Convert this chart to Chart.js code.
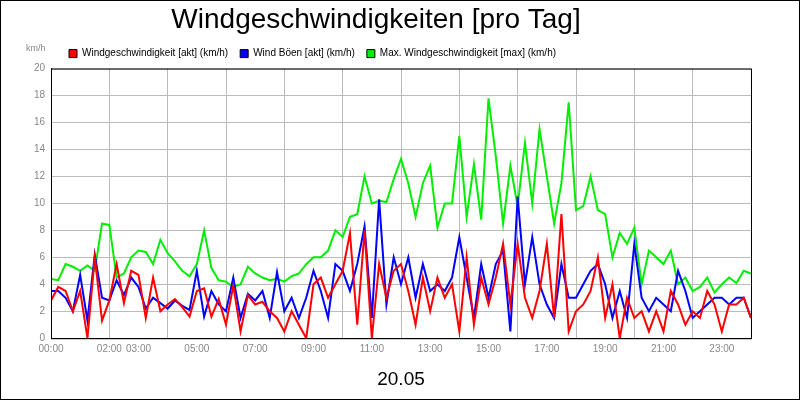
<!DOCTYPE html>
<html>
<head>
<meta charset="utf-8">
<script src="https://cdn.jsdelivr.net/npm/chart.js@4"></script>
<style>
    body { margin: 0; background: #fff; }
    #wrap { position: relative; width: 798px; height: 398px; border: 1px solid #000; overflow: hidden; }
    #unit { position: absolute; left: 25px; top: 42px; font: 9px "Liberation Sans", sans-serif; color: #888; }
</style>
</head>
<body>
<div id="wrap">
    <canvas id="c" width="798" height="398"></canvas>
    <div id="unit">km/h</div>
</div>
<script>
// 15-Minuten-Werte, 00:00 bis 24:00
const hours = [];
for (let i = 0; i <= 96; i++) hours.push(i / 4);

const windAkt = [
    2.8, 3.8, 3.5, 2.0, 3.5, 0, 6.0, 1.3, 2.8, 5.5, 2.6, 5.0,
    4.7, 1.5, 4.5, 2.0, 2.5, 2.9, 2.3, 1.6, 3.5, 3.7, 1.6, 2.9,
    1.0, 3.9, 0.5, 3.2, 2.5, 2.7, 2.0, 1.5, 0.5, 2.0, 1.0, 0,
    4.0, 4.5, 3.0, 4.0, 5.0, 7.8, 1.0, 8.0, 0, 5.5, 3.0, 5.0,
    5.5, 3.5, 1.0, 4.5, 2.0, 4.5, 3.0, 4.0, 0.5, 6.0, 1.0, 4.5,
    2.5, 4.5, 7.0, 2.5, 7.0, 3.0, 1.5, 3.5, 7.0, 1.5, 9.2, 0.5,
    2.0, 2.5, 3.5, 6.0, 1.5, 4.0, 0, 3.0, 1.5, 2.0, 0.5, 2.0,
    0.5, 3.5, 2.5, 1.0, 2.0, 1.5, 3.5, 2.5, 0.5, 2.5, 2.5, 3.0,
    1.5
];
const windBoeen = [
    3.5, 3.5, 3.0, 2.0, 4.7, 1.3, 6.2, 3.0, 2.8, 4.3, 3.2, 4.5,
    3.8, 2.2, 3.0, 2.6, 2.2, 2.8, 2.4, 2.1, 5.0, 1.6, 3.5, 2.5,
    2.0, 4.5, 1.5, 3.3, 2.8, 3.5, 1.5, 4.9, 2.0, 3.0, 1.5, 3.0,
    5.0, 3.5, 1.5, 5.5, 5.0, 3.5, 5.5, 8.3, 1.5, 10.3, 2.5, 6.0,
    4.0, 6.0, 3.0, 5.5, 3.5, 4.0, 3.5, 4.5, 7.5, 4.5, 1.5, 5.5,
    3.0, 5.5, 6.5, 0.5, 10.5, 4.0, 7.5, 4.0, 2.5, 1.5, 5.5, 3.0,
    3.0, 4.0, 5.0, 5.5, 4.0, 1.5, 3.5, 1.5, 7.0, 3.0, 2.0, 3.0,
    2.5, 2.0, 5.0, 3.5, 1.5, 2.0, 2.5, 3.0, 3.0, 2.5, 3.0, 3.0,
    1.5
];
const windMax = [
    4.4, 4.3, 5.5, 5.3, 5.0, 5.4, 5.0, 8.5, 8.4, 4.5, 4.8, 6.0,
    6.5, 6.4, 5.5, 7.3, 6.3, 5.7, 5.0, 4.6, 5.5, 8.0, 5.2, 4.3,
    4.2, 3.8, 4.0, 5.3, 4.8, 4.5, 4.3, 4.4, 4.2, 4.6, 4.8, 5.5,
    6.0, 6.0, 6.5, 8.0, 7.5, 9.0, 9.2, 12.0, 10.0, 10.2, 10.1, 11.8,
    13.3, 11.5, 9.0, 11.5, 12.8, 8.2, 10.0, 10.0, 15.0, 9.0, 12.9, 8.8,
    17.8, 13.5, 8.5, 12.8, 9.8, 14.5, 10.0, 15.5, 12.0, 8.5, 11.5, 17.5,
    9.5, 9.8, 12.0, 9.5, 9.2, 6.0, 7.8, 7.0, 8.2, 4.0, 6.5, 6.0,
    5.5, 6.5, 4.0, 4.5, 3.5, 3.8, 4.5, 3.4, 4.0, 4.5, 4.1, 5.0,
    4.8
];
const xLabelHours = [0, 2, 3, 5, 7, 9, 11, 13, 15, 17, 19, 21, 23];

function pts(values) {
    return values.map((v, i) => ({ x: hours[i], y: v }));
}

function line(label, values, color) {
    return {
        label,
        data: pts(values),
        borderColor: color,
        backgroundColor: color,
        borderWidth: 2,
        pointRadius: 0,
        tension: 0,
    };
}

const frame = {
    id: "frame",
    afterLayout(chart) {
        // Legende neben "km/h" einrücken
        chart.legend.left = 56;
    },
    afterDraw(chart) {
        const a = chart.chartArea;
        const ctx = chart.ctx;
        ctx.save();
        ctx.strokeStyle = "#000";
        ctx.lineWidth = 1;
        ctx.strokeRect(a.left + 0.5, a.top + 0.5, a.width, a.height);
        ctx.restore();
    },
};

new Chart(document.getElementById("c"), {
    type: "line",
    data: {
        datasets: [
            line("Windgeschwindigkeit [akt] (km/h)", windAkt, "#ff0000"),
            line("Wind Böen [akt] (km/h)", windBoeen, "#0000ff"),
            line("Max. Windgeschwindigkeit [max] (km/h)", windMax, "#00ee00"),
        ],
    },
    options: {
        responsive: false,
        animation: false,
        layout: { padding: { left: 0, right: 48, top: 0, bottom: 8 } },
        plugins: {
            title: {
                display: true,
                text: "Windgeschwindigkeiten [pro Tag]",
                color: "#000",
                font: { family: "Liberation Sans", size: 28, weight: "normal" },
                padding: { top: 2, bottom: 0 },
            },
            legend: {
                align: "start",
                labels: {
                    boxWidth: 8,
                    boxHeight: 8,
                    padding: 12,
                    color: "#000",
                    font: { family: "Liberation Sans", size: 10 },
                    generateLabels(chart) {
                        return chart.data.datasets.map((d, i) => ({
                            text: d.label,
                            fillStyle: d.borderColor,
                            strokeStyle: "#000",
                            lineWidth: 1,
                            datasetIndex: i,
                        }));
                    },
                },
            },
            tooltip: { enabled: false },
        },
        scales: {
            x: {
                type: "linear",
                min: 0,
                max: 24,
                border: { color: "#000" },
                grid: {
                    color: (c) => (c.tick && c.tick.value % 2 === 0 ? "#bbb" : "rgba(0,0,0,0)"),
                    drawTicks: false,
                },
                ticks: {
                    stepSize: 1,
                    autoSkip: false,
                    maxRotation: 0,
                    color: "#888",
                    font: { family: "Liberation Sans", size: 10 },
                    padding: 5,
                    callback: (v) => (xLabelHours.includes(v) ? String(v).padStart(2, "0") + ":00" : ""),
                },
                title: {
                    display: true,
                    text: "20.05",
                    color: "#000",
                    font: { family: "Liberation Sans", size: 19 },
                    padding: { top: 8, bottom: 0 },
                },
            },
            y: {
                min: 0,
                max: 20,
                border: { color: "#000" },
                grid: { color: "#bbb", drawTicks: false },
                ticks: {
                    stepSize: 2,
                    color: "#888",
                    font: { family: "Liberation Sans", size: 10 },
                    padding: 6,
                },
                afterFit(scale) { scale.width = 50; },
            },
        },
    },
    plugins: [frame],
});
</script>
</body>
</html>
